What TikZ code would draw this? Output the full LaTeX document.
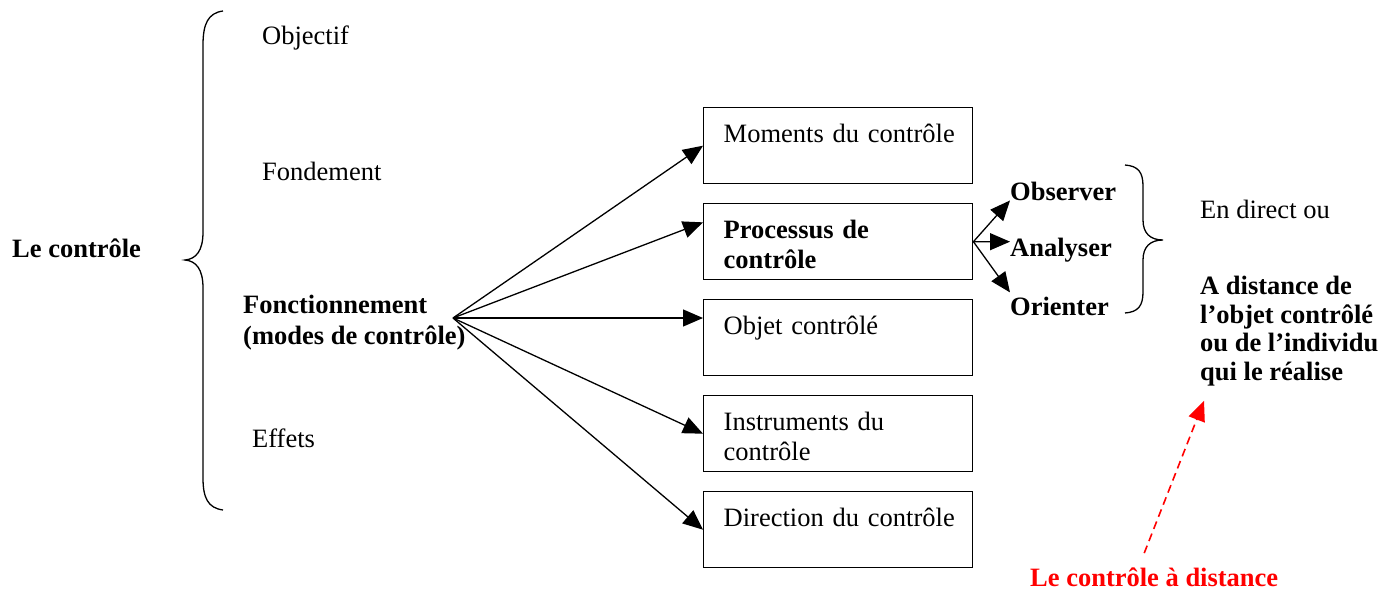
\documentclass[tikz,border=0pt]{standalone}
\usepackage{fontspec}
\setmainfont{Liberation Serif}
\usetikzlibrary{positioning,arrows.meta,calc}
\definecolor{alertred}{HTML}{FF0000}
\newcommand{\diagfont}{\fontsize{26.5}{30}\selectfont}

\begin{document}
\begin{tikzpicture}[x=1pt, y=-1pt,
    txt/.style={inner sep=0pt, anchor=base west, font=\diagfont, align=left},
    bold/.style={txt, font=\diagfont\bfseries},
    box/.style={draw, line width=1.4pt, txt, anchor=north west, text width=229pt,
        inner xsep=20pt, inner ysep=0pt, text height=35pt, text depth=41pt},
    link/.style={-{Triangle[length=20pt, width=17pt]}, line width=1.3pt},
    remotelink/.style={link, alertred, line width=1.6pt, dash pattern=on 8pt off 5pt},
]
    \useasboundingbox (0,0) rectangle (1396,591);

    % Left column
    \node[bold] (root) at (12,257) {Le contrôle};
    \node[txt] (objectif) at (262,45) {Objectif};
    \node[txt] (fondement) at (262,180) {Fondement};
    \node[bold, font=\fontsize{26.5}{31}\selectfont\bfseries] (fonct) at (243,344)
        {Fonctionnement\\(modes de contrôle)};
    \node[txt] (effets) at (252,447) {Effets};

    % Big brace
    \draw[line width=1.3pt] (223,11) .. controls (208,13) and (203,24) .. (203,45)
        -- (203,232) .. controls (203,251) and (196,259) .. (185,260)
        .. controls (196,261) and (203,269) .. (203,288)
        -- (203,478) .. controls (203,498) and (208,508) .. (223,510);

    % Boxes
    \node[box] (moments) at (703,107) {\mbox{Moments du contrôle}};
    \node[box, below=18.6pt of moments, font=\diagfont\bfseries] (proc) {Processus de\\contrôle};
    \node[box, below=18.6pt of proc] (objet) {Objet contrôlé};
    \node[box, below=18.6pt of objet] (instr) {Instruments du\\contrôle};
    \node[box, below=18.6pt of instr] (dir) {\mbox{Direction du contrôle}};

    % Fan of arrows
    \coordinate (fan) at (453,318);
    \coordinate (procin) at ($(proc.north west)!.25!(proc.south west)$);
    \coordinate (objin) at (objet.west |- fan);
    \foreach \target in {moments.west, procin, objin, instr.west, dir.west}
        \draw[link] (fan) -- (\target);

    % Steps of the process
    \node[bold] (obs) at (1010,200) {Observer};
    \node[bold] (ana) at (1010,256) {Analyser};
    \node[bold] (ori) at (1010,315) {Orienter};
    \draw[link] (proc.east) -- (obs.south west);
    \draw[link] (proc.east) -- ([yshift=8pt]ana.west);
    \draw[link] (proc.east) -- ([yshift=4pt]ori.north west);

    % Small brace
    \draw[line width=1.3pt] (1125,165) .. controls (1138,166) and (1143,172) .. (1143,186)
        -- (1143,220) .. controls (1143,233) and (1150,240) .. (1163,240)
        .. controls (1150,240) and (1143,247) .. (1143,260)
        -- (1143,292) .. controls (1143,306) and (1138,312) .. (1125,313);

    % Modes
    \node[txt] (direct) at (1200,218) {En direct ou};
    \node[bold, font=\fontsize{26.5}{28.5}\selectfont\bfseries] (remote) at (1200,380)
        {A distance de\\l’objet contrôlé\\ou de l’individu\\qui le réalise};
    \node[bold, text=alertred] (distance) at (1030,586) {Le contrôle à distance};
    \draw[remotelink] ([xshift=-10pt, yshift=14pt]distance.north)
        -- ([xshift=4pt, yshift=-15pt]remote.south west);
\end{tikzpicture}
\end{document}
